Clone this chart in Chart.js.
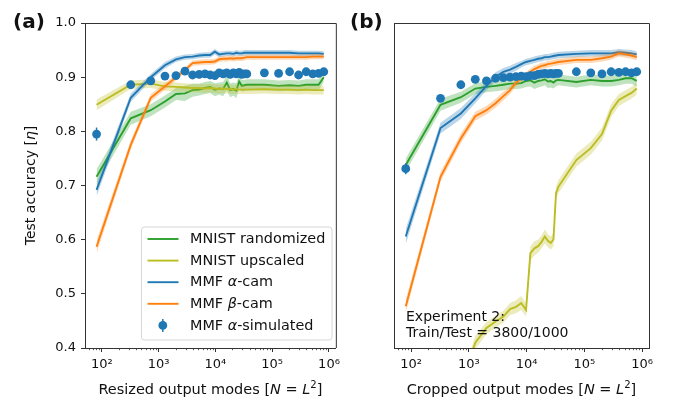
<!DOCTYPE html>
<html>
<head>
<meta charset="utf-8">
<script src="https://cdn.jsdelivr.net/npm/chart.js@4.4.0/dist/chart.umd.min.js"></script>
<style>
  html, body { margin: 0; padding: 0; background: #fff; }
  #wrap { position: relative; width: 677px; height: 403px; overflow: hidden; }
  canvas { position: absolute; top: 0; }
  #chart-a { left: 0; }
  #chart-b { left: 345px; }
</style>
</head>
<body>
<div id="wrap">
  <canvas id="chart-a" width="345" height="403"></canvas>
  <canvas id="chart-b" width="332" height="403"></canvas>
</div>
<script>
const FONT = "'DejaVu Sans', sans-serif";
Chart.defaults.font.family = FONT;
Chart.defaults.color = '#111';

// side length L of the output image, N = L^2 modes
const sideL = [9, 18, 27, 36, 45, 54, 63, 72, 81, 90, 99, 108, 117, 126, 135, 144, 153, 162, 171, 180, 189, 270, 360, 450, 540, 630, 720, 810, 900];
const xMajorTicks = [1e2, 1e3, 1e4, 1e5, 1e6];
const yTickValues = [0.4, 0.5, 0.6, 0.7, 0.8, 0.9, 1.0];
const xMin = 50.7, xMax = 1.32e6;

// (a) resized
const aRandom   = [0.716, 0.824, 0.839, 0.855, 0.869, 0.870, 0.876, 0.877, 0.880, 0.882, 0.877, 0.879, 0.878, 0.890, 0.876, 0.878, 0.875, 0.892, 0.884, 0.885, 0.886, 0.886, 0.884, 0.885, 0.884, 0.886, 0.886, 0.886, 0.900];
const aRandomSd = [0.014, 0.012, 0.011, 0.011, 0.011, 0.014, 0.012, 0.011, 0.011, 0.011, 0.012, 0.011, 0.013, 0.014, 0.013, 0.012, 0.014, 0.013, 0.011, 0.010, 0.010, 0.010, 0.010, 0.010, 0.010, 0.010, 0.010, 0.010, 0.009];
const aUpscaled   = [0.849, 0.886, 0.888, 0.883, 0.882, 0.881, 0.880, 0.880, 0.879, 0.880, 0.879, 0.878, 0.879, 0.878, 0.878, 0.877, 0.878, 0.877, 0.877, 0.877, 0.877, 0.878, 0.877, 0.877, 0.876, 0.877, 0.876, 0.876, 0.876];
const aUpscaledSd = [0.010, 0.008, 0.008, 0.008, 0.008, 0.008, 0.008, 0.008, 0.008, 0.008, 0.008, 0.008, 0.008, 0.008, 0.008, 0.008, 0.008, 0.008, 0.008, 0.008, 0.008, 0.008, 0.008, 0.008, 0.008, 0.008, 0.008, 0.008, 0.008];
const aAlphaCam   = [0.692, 0.862, 0.900, 0.922, 0.933, 0.937, 0.938, 0.940, 0.941, 0.941, 0.947, 0.942, 0.943, 0.944, 0.944, 0.943, 0.945, 0.944, 0.944, 0.945, 0.945, 0.945, 0.945, 0.945, 0.944, 0.944, 0.944, 0.944, 0.943];
const aAlphaCamSd = [0.012, 0.008, 0.006, 0.006, 0.005, 0.005, 0.005, 0.005, 0.005, 0.005, 0.005, 0.005, 0.005, 0.005, 0.005, 0.005, 0.005, 0.005, 0.005, 0.005, 0.005, 0.005, 0.005, 0.005, 0.005, 0.005, 0.005, 0.005, 0.005];
const aBetaCam    = [0.587, 0.775, 0.862, 0.883, 0.900, 0.913, 0.926, 0.927, 0.928, 0.928, 0.929, 0.933, 0.934, 0.934, 0.935, 0.934, 0.935, 0.935, 0.935, 0.936, 0.937, 0.937, 0.937, 0.937, 0.937, 0.937, 0.938, 0.938, 0.938];
const aBetaCamSd  = [0.012, 0.008, 0.007, 0.006, 0.006, 0.005, 0.005, 0.005, 0.005, 0.005, 0.005, 0.005, 0.005, 0.005, 0.005, 0.005, 0.005, 0.005, 0.005, 0.005, 0.005, 0.005, 0.005, 0.005, 0.005, 0.005, 0.005, 0.005, 0.005];
const aSimulated    = [0.795, 0.886, 0.893, 0.902, 0.903, 0.911, 0.904, 0.905, 0.906, 0.904, 0.903, 0.908, 0.906, 0.908, 0.905, 0.908, 0.906, 0.909, 0.905, 0.906, 0.906, 0.908, 0.907, 0.910, 0.904, 0.910, 0.906, 0.907, 0.910];
const aSimulatedErr = [0.012, 0.004, 0.003, 0.003, 0.003, 0.003, 0.003, 0.003, 0.003, 0.003, 0.003, 0.003, 0.003, 0.003, 0.003, 0.003, 0.003, 0.003, 0.003, 0.003, 0.003, 0.003, 0.003, 0.003, 0.003, 0.003, 0.003, 0.003, 0.003];

// (b) cropped
const bRandom   = [0.738, 0.849, 0.863, 0.879, 0.882, 0.884, 0.886, 0.888, 0.888, 0.889, 0.893, 0.894, 0.890, 0.893, 0.894, 0.896, 0.892, 0.893, 0.890, 0.894, 0.895, 0.891, 0.895, 0.893, 0.893, 0.895, 0.898, 0.898, 0.893];
const bRandomSd = [0.012, 0.011, 0.010, 0.010, 0.010, 0.010, 0.010, 0.010, 0.010, 0.010, 0.011, 0.011, 0.012, 0.012, 0.011, 0.011, 0.012, 0.012, 0.011, 0.011, 0.010, 0.010, 0.010, 0.010, 0.010, 0.010, 0.010, 0.010, 0.010];
const bUpscaled   = [0.150, 0.250, 0.330, 0.410, 0.437, 0.449, 0.458, 0.472, 0.476, 0.483, 0.470, 0.575, 0.584, 0.588, 0.596, 0.606, 0.598, 0.594, 0.600, 0.686, 0.698, 0.747, 0.769, 0.795, 0.838, 0.858, 0.865, 0.871, 0.879];
const bUpscaledSd = [0.012, 0.012, 0.012, 0.012, 0.011, 0.011, 0.011, 0.011, 0.012, 0.013, 0.012, 0.013, 0.013, 0.012, 0.012, 0.013, 0.012, 0.012, 0.012, 0.012, 0.012, 0.012, 0.012, 0.012, 0.012, 0.011, 0.011, 0.011, 0.011];
const bAlphaCam   = [0.606, 0.806, 0.833, 0.861, 0.884, 0.901, 0.910, 0.914, 0.919, 0.924, 0.928, 0.930, 0.932, 0.934, 0.935, 0.937, 0.937, 0.938, 0.939, 0.940, 0.941, 0.943, 0.944, 0.944, 0.944, 0.946, 0.945, 0.944, 0.942];
const bAlphaCamSd = [0.014, 0.010, 0.010, 0.009, 0.008, 0.008, 0.007, 0.007, 0.007, 0.006, 0.006, 0.006, 0.006, 0.006, 0.006, 0.006, 0.006, 0.006, 0.006, 0.006, 0.006, 0.006, 0.006, 0.006, 0.006, 0.006, 0.006, 0.006, 0.006];
const bBetaCam    = [0.477, 0.716, 0.787, 0.828, 0.839, 0.852, 0.865, 0.876, 0.890, 0.898, 0.903, 0.910, 0.915, 0.918, 0.921, 0.922, 0.924, 0.925, 0.926, 0.927, 0.928, 0.932, 0.932, 0.935, 0.938, 0.944, 0.942, 0.940, 0.937];
const bBetaCamSd  = [0.012, 0.009, 0.009, 0.008, 0.008, 0.008, 0.008, 0.007, 0.007, 0.007, 0.006, 0.006, 0.006, 0.006, 0.006, 0.006, 0.006, 0.006, 0.006, 0.006, 0.006, 0.006, 0.006, 0.006, 0.006, 0.006, 0.006, 0.006, 0.006];
const bSimulated    = [0.731, 0.861, 0.886, 0.896, 0.893, 0.898, 0.899, 0.900, 0.901, 0.902, 0.901, 0.903, 0.903, 0.905, 0.906, 0.907, 0.906, 0.907, 0.906, 0.907, 0.907, 0.910, 0.908, 0.906, 0.910, 0.909, 0.910, 0.908, 0.910];
const bSimulatedErr = [0.010, 0.004, 0.003, 0.003, 0.003, 0.003, 0.003, 0.003, 0.003, 0.003, 0.003, 0.003, 0.003, 0.003, 0.003, 0.003, 0.003, 0.003, 0.003, 0.003, 0.003, 0.003, 0.003, 0.003, 0.003, 0.003, 0.003, 0.003, 0.003];

const C = { random: '#2ca02c', upscaled: '#bcbd22', alpha: '#1f77b4', beta: '#ff7f0e' };
const band = hex => {
  const n = parseInt(hex.slice(1), 16);
  return `rgba(${n >> 16},${(n >> 8) & 255},${n & 255},0.3)`;
};

const modes = sideL.map(l => l * l);
const xTickList = [];
[1e1, ...xMajorTicks].forEach(d => {
  for (let m = 1; m <= 9; m++) { const v = m * d; if (v >= xMin && v <= xMax) xTickList.push(v); }
});
const SUP = { 2: '\u00b2', 3: '\u00b3', 4: '\u2074', 5: '\u2075', 6: '\u2076' };

function lineWithBand(vals, sd, col) {
  const pts = f => modes.map((x, i) => ({ x, y: f(i) }));
  const clear = 'rgba(0,0,0,0)';
  return [
    { data: pts(i => vals[i] - sd[i]), borderColor: clear, borderWidth: 0, pointRadius: 0, fill: false },
    { data: pts(i => vals[i] + sd[i]), borderColor: clear, borderWidth: 0, pointRadius: 0, fill: '-1', backgroundColor: band(col) },
    { data: pts(i => vals[i]), borderColor: col, borderWidth: 1.9, pointRadius: 0, fill: false }
  ];
}

function buildDatasets(rnd, rndSd, up, upSd, al, alSd, be, beSd, sim, simErr) {
  const ds = [
    ...lineWithBand(rnd, rndSd, C.random),
    ...lineWithBand(up, upSd, C.upscaled),
    ...lineWithBand(al, alSd, C.alpha),
    ...lineWithBand(be, beSd, C.beta),
    { data: modes.map((x, i) => ({ x, y: sim[i] })), showLine: false, pointRadius: 4.4, pointHoverRadius: 4.4,
      pointBackgroundColor: C.alpha, pointBorderWidth: 0, borderColor: C.alpha, errs: simErr }
  ];
  ds.forEach((d, i) => { d.order = ds.length - i; d.tension = 0; });
  return ds;
}

function drawRich(ctx, parts, x, y, size, align) {
  const fontFor = st => (st === 'i' ? 'italic ' : '') + (st === 's' ? size * 0.7 : size) + 'px ' + FONT;
  let w = 0;
  parts.forEach(([t, st]) => { ctx.font = fontFor(st); w += ctx.measureText(t).width; });
  let cx = align === 'center' ? x - w / 2 : x;
  ctx.textAlign = 'left';
  parts.forEach(([t, st]) => {
    ctx.font = fontFor(st);
    ctx.fillText(t, cx, st === 's' ? y - size * 0.42 : y);
    cx += ctx.measureText(t).width;
  });
}

const legendItems = [
  { col: C.random, parts: [['MNIST randomized', '']] },
  { col: C.upscaled, parts: [['MNIST upscaled', '']] },
  { col: C.alpha, parts: [['MMF ', ''], ['\u03b1', 'i'], ['-cam', '']] },
  { col: C.beta, parts: [['MMF ', ''], ['\u03b2', 'i'], ['-cam', '']] },
  { col: C.alpha, parts: [['MMF ', ''], ['\u03b1', 'i'], ['-simulated', '']], marker: true }
];

function decor(opts) {
  return {
    id: 'decor',
    afterDatasetsDraw(chart) {
      const { ctx, scales: { x, y } } = chart;
      // error bars of the simulated points
      chart.data.datasets.forEach(d => {
        if (!d.errs) return;
        ctx.save();
        ctx.strokeStyle = C.alpha; ctx.lineWidth = 1.5;
        d.data.forEach((p, i) => {
          const px = x.getPixelForValue(p.x);
          ctx.beginPath();
          ctx.moveTo(px, y.getPixelForValue(p.y - d.errs[i]));
          ctx.lineTo(px, y.getPixelForValue(p.y + d.errs[i]));
          ctx.stroke();
        });
        ctx.restore();
      });
    },
    afterDraw(chart) {
      const { ctx, chartArea: a, scales: { x } } = chart;
      ctx.save();
      // top and right spines
      ctx.strokeStyle = '#333'; ctx.lineWidth = 1;
      ctx.beginPath();
      ctx.moveTo(a.left, a.top + 0.5); ctx.lineTo(a.right + 0.5, a.top + 0.5);
      ctx.lineTo(a.right + 0.5, a.bottom);
      ctx.stroke();
      // minor ticks
      ctx.beginPath();
      xTickList.forEach(v => {
        if (xMajorTicks.includes(v)) return;
        const px = Math.round(x.getPixelForValue(v)) + 0.5;
        ctx.moveTo(px, a.bottom); ctx.lineTo(px, a.bottom + 2.2);
      });
      ctx.lineWidth = 0.8; ctx.stroke();

      ctx.fillStyle = '#111';
      ctx.textBaseline = 'alphabetic';
      // panel label
      ctx.font = 'bold 20px ' + FONT; ctx.textAlign = 'left';
      ctx.fillText(opts.panel, opts.panelX, 28);
      // x title
      drawRich(ctx, [[opts.xTitle + ' [', ''], ['N', 'i'], [' = ', ''], ['L', 'i'], ['2', 's'], [']', '']],
        (a.left + a.right) / 2, 394, 14.5, 'center');
      // y title
      if (opts.yTitle) {
        ctx.save();
        ctx.translate(35, (a.top + a.bottom) / 2);
        ctx.rotate(-Math.PI / 2);
        drawRich(ctx, [['Test accuracy [', ''], ['\u03b7', 'i'], [']', '']], 0, 0, 14, 'center');
        ctx.restore();
      }
      if (opts.legend) drawLegend(ctx);
      if (opts.note) {
        ctx.font = '14px ' + FONT; ctx.textAlign = 'left'; ctx.fillStyle = '#111';
        opts.note.forEach((t, i) => ctx.fillText(t, a.left + 12, 320.5 + i * 16.5));
      }
      ctx.restore();
    }
  };
}

function drawLegend(ctx) {
  const bx = 141.5, by = 227, bw = 190.5, bh = 113;
  ctx.save();
  ctx.beginPath();
  ctx.roundRect(bx, by, bw, bh, 3);
  ctx.fillStyle = 'rgba(255,255,255,0.8)'; ctx.fill();
  ctx.strokeStyle = '#d6d6d6'; ctx.lineWidth = 1; ctx.stroke();
  ctx.textBaseline = 'middle';
  legendItems.forEach((it, i) => {
    const cy = 239 + i * 21.6;
    if (it.marker) {
      ctx.strokeStyle = it.col; ctx.lineWidth = 1.5;
      ctx.beginPath(); ctx.moveTo(162.8, cy - 6.5); ctx.lineTo(162.8, cy + 6.5); ctx.stroke();
      ctx.fillStyle = it.col;
      ctx.beginPath(); ctx.arc(162.8, cy, 4.4, 0, Math.PI * 2); ctx.fill();
    } else {
      ctx.strokeStyle = it.col; ctx.lineWidth = 1.9;
      ctx.beginPath(); ctx.moveTo(147.5, cy); ctx.lineTo(178.5, cy); ctx.stroke();
    }
    ctx.fillStyle = '#111';
    drawRich(ctx, it.parts, 190, cy + 0.5, 14.4, 'left');
  });
  ctx.restore();
}

function makeChart(id, datasets, cfg) {
  return new Chart(document.getElementById(id), {
    type: 'line',
    data: { datasets },
    options: {
      responsive: false, animation: false, events: [],
      layout: { padding: { left: 0, top: 23, right: cfg.padRight, bottom: 0 } },
      plugins: { legend: { display: false }, tooltip: { enabled: false } },
      scales: {
        x: {
          type: 'logarithmic', min: xMin, max: xMax,
          afterBuildTicks: s => { s.ticks = xTickList.map(v => ({ value: v })); },
          afterFit: s => { s.height = 55; },
          ticks: {
            autoSkip: false, maxRotation: 0, minRotation: 0, padding: 5, color: '#111', font: { size: 13 },
            callback: v => xMajorTicks.includes(v) ? '10' + SUP[Math.round(Math.log10(v))] : ''
          },
          grid: {
            display: true, drawOnChartArea: false, drawTicks: true, tickLength: 4, tickWidth: 1,
            tickColor: c => (c.tick && xMajorTicks.includes(c.tick.value)) ? '#333' : 'rgba(0,0,0,0)'
          },
          border: { display: true, color: '#333', width: 1 }
        },
        y: {
          type: 'linear', min: 0.4, max: 1.0,
          afterBuildTicks: s => { s.ticks = yTickValues.map(v => ({ value: v })); },
          afterFit: s => { s.width = cfg.yWidth; },
          ticks: { display: cfg.yTicks, padding: 5, color: '#111', font: { size: 13 }, callback: v => v.toFixed(1) },
          grid: { display: cfg.yTicks, drawOnChartArea: false, drawTicks: true, tickLength: 4, tickColor: '#333' },
          border: { display: true, color: '#333', width: 1 }
        }
      }
    },
    plugins: [decor(cfg)]
  });
}

makeChart('chart-a',
  buildDatasets(aRandom, aRandomSd, aUpscaled, aUpscaledSd, aAlphaCam, aAlphaCamSd, aBetaCam, aBetaCamSd, aSimulated, aSimulatedErr),
  { padRight: 5, yWidth: 85, yTicks: true, panel: '(a)', panelX: 13, xTitle: 'Resized output modes', yTitle: true, legend: true });

makeChart('chart-b',
  buildDatasets(bRandom, bRandomSd, bUpscaled, bUpscaledSd, bAlphaCam, bAlphaCamSd, bBetaCam, bBetaCamSd, bSimulated, bSimulatedErr),
  { padRight: 28, yWidth: 49, yTicks: false, panel: '(b)', panelX: 5, xTitle: 'Cropped output modes', yTitle: false, legend: false,
    note: ['Experiment 2:', 'Train/Test = 3800/1000'] });
</script>
</body>
</html>
